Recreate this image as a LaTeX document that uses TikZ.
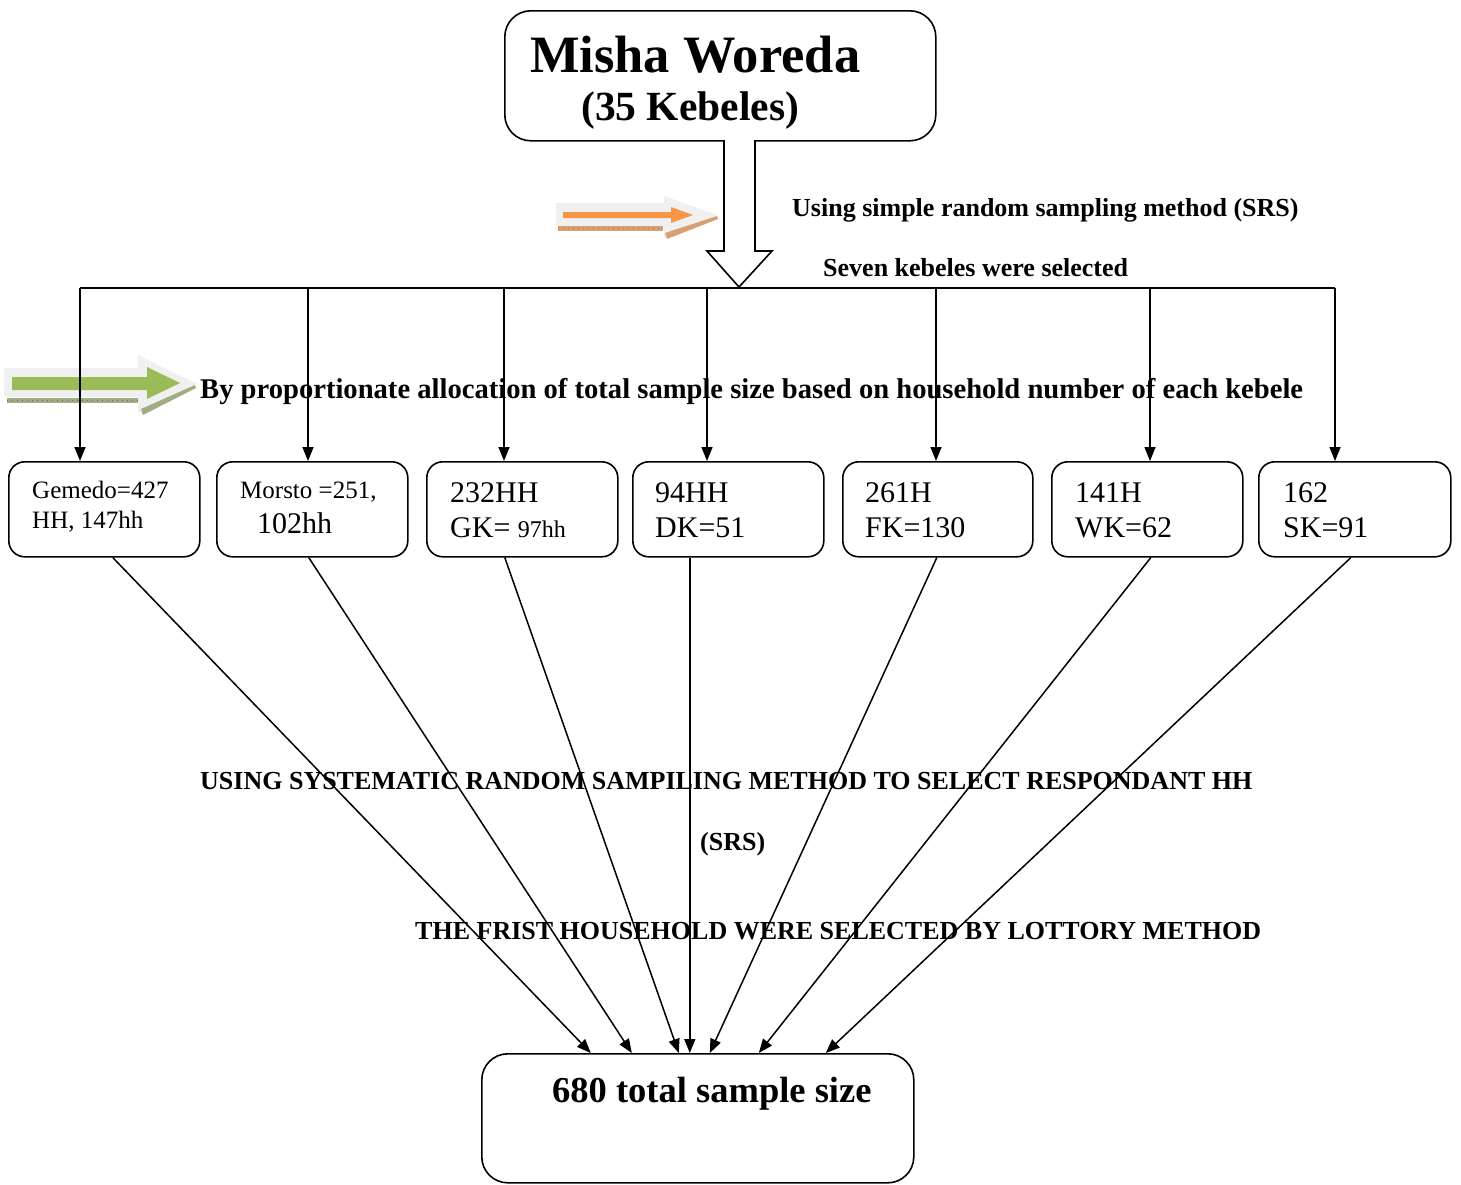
\documentclass[tikz,border=0pt]{standalone}
\usepackage{fontspec}
\setmainfont{Liberation Serif}
\usetikzlibrary{arrows.meta}
\begin{document}
\begin{tikzpicture}[x=1pt,y=-1pt,
  box/.style={draw, line width=1.6pt, rounded corners=16pt, anchor=north west, inner sep=0pt},
  arr/.style={line width=1.5pt, -{Triangle[length=14pt,width=11pt]}},
  lbl/.style={anchor=base west, inner sep=0pt, font=\bfseries\fontsize{26}{30}\selectfont},
  kt/.style={anchor=base west, inner sep=0pt, font=\fontsize{30}{34}\selectfont},
  ks/.style={anchor=base west, inner sep=0pt, font=\fontsize{25}{29}\selectfont},
  graybg/.style={fill=black!6},
]
\useasboundingbox (0,0) rectangle (1461,1184);

% top box
\node[box, rounded corners=26pt, minimum width=431pt, minimum height=130pt] (top) at (504,10) {};
\node[anchor=base west, inner sep=0pt, font=\bfseries\fontsize{52.5}{56}\selectfont] (t1) at (530,72) {Misha Woreda};
\node[anchor=base west, inner sep=0pt, font=\bfseries\fontsize{41.5}{46}\selectfont] (t2) at (581,120) {(35 Kebeles)};

% hollow down arrow
\draw[line width=1.6pt, fill=white] (724,140) -- (724,251) -- (707,251) -- (739,287) -- (772,251) -- (755,251) -- (755,140);

% orange decorative arrow
\fill[graybg] (556,203) -- (664,203) -- (664,196) -- (717,215) -- (664,238) -- (664,226) -- (556,226) -- cycle;
\fill[color={rgb,255:red,215;green,160;blue,115}] (558,226) rectangle (663,231);
\draw[color={rgb,255:red,170;green,110;blue,70}, line width=0.6pt, dash pattern=on 1pt off 4pt] (558,228.5) -- (663,228.5);
\fill[color={rgb,255:red,215;green,160;blue,115}] (665,233) -- (717,216) -- (718,219) -- (667,239) -- cycle;
\fill[color={rgb,255:red,247;green,150;blue,70}] (563,212) -- (671,212) -- (671,207) -- (693,215) -- (671,223) -- (671,218) -- (563,218) -- cycle;

% green decorative arrow
\fill[graybg] (4,368) -- (138,368) -- (138,355) -- (197,384) -- (138,413) -- (138,397) -- (4,397) -- cycle;
\fill[color={rgb,255:red,160;green,172;blue,130}] (7,398) rectangle (138,403);
\draw[color={rgb,255:red,100;green,115;blue,75}, line width=0.6pt, dash pattern=on 1pt off 4pt] (7,400.5) -- (138,400.5);
\fill[color={rgb,255:red,160;green,172;blue,130}] (141,409) -- (195,385) -- (196,388) -- (143,415) -- cycle;
\fill[color={rgb,255:red,155;green,187;blue,89}] (12,377) -- (147,377) -- (147,367) -- (180,383) -- (147,399) -- (147,390) -- (12,390) -- cycle;

% labels
\node[lbl] (l1) at (792,216) {Using simple random sampling method (SRS)};
\node[lbl] (l2) at (823,276) {Seven kebeles were selected};

% kebele boxes
\node[box, minimum width=191pt, minimum height=95pt] (g1) at (8,461) {};
\node[box, minimum width=191pt, minimum height=95pt] (g2) at (216,461) {};
\node[box, minimum width=191pt, minimum height=95pt] (g3) at (426,461) {};
\node[box, minimum width=191pt, minimum height=95pt] (g4) at (632,461) {};
\node[box, minimum width=190pt, minimum height=95pt] (g5) at (842,461) {};
\node[box, minimum width=191pt, minimum height=95pt] (g6) at (1051,461) {};
\node[box, minimum width=192pt, minimum height=95pt] (g7) at (1258,461) {};

% bus
\coordinate (b1) at (80,288);
\coordinate (b2) at (308,288);
\coordinate (b3) at (504,288);
\coordinate (b4) at (707,288);
\coordinate (b5) at (936,288);
\coordinate (b6) at (1150,288);
\coordinate (b7) at (1335,288);
\draw[line width=1.6pt] (b1) -- (b7);
\draw[arr] (b1) -- (b1 |- g1.north);
\draw[arr] (b2) -- (b2 |- g2.north);
\draw[arr] (b3) -- (b3 |- g3.north);
\draw[arr] (b4) -- (b4 |- g4.north);
\draw[arr] (b5) -- (b5 |- g5.north);
\draw[arr] (b6) -- (b6 |- g6.north);
\draw[arr] (b7) -- (b7 |- g7.north);

% proportional allocation label
\node[lbl, font=\bfseries\fontsize{28.6}{32}\selectfont] (l3) at (200,398) {By proportionate allocation of total sample size based on household number of each kebele};

% kebele texts
\node[ks] (k1a) at (32,498) {Gemedo=427};
\node[ks] (k1b) at (32,528) {HH, 147hh};
\node[ks] (k2a) at (240,498) {Morsto =251,};
\node[kt] (k2b) at (257,533) {102hh};
\node[kt] (k3a) at (450,502) {232HH};
\node[kt] (k3b) at (450,537) {GK= {\fontsize{24}{28}\selectfont 97hh}};
\node[kt] (k4a) at (655,502) {94HH};
\node[kt] (k4b) at (655,537) {DK=51};
\node[kt] (k5a) at (865,502) {261H};
\node[kt] (k5b) at (865,537) {FK=130};
\node[kt] (k6a) at (1075,502) {141H};
\node[kt] (k6b) at (1075,537) {WK=62};
\node[kt] (k7a) at (1283,502) {162};
\node[kt] (k7b) at (1283,537) {SK=91};

% total box
\node[box, rounded corners=26pt, minimum width=432pt, minimum height=129pt] (tot) at (481,1053) {};
\node[anchor=base west, inner sep=0pt, font=\bfseries\fontsize{36.5}{40}\selectfont] (tt) at (552,1102) {680 total sample size};

% converging arrows
\draw[arr] ([xshift=8.5pt]g1.south) -- ([xshift=-107pt]tot.north);
\draw[arr] ([xshift=-3.5pt]g2.south) -- ([xshift=-66pt]tot.north);
\draw[arr] ([xshift=-17.5pt]g3.south) -- ([xshift=-19pt]tot.north);
\draw[arr] ([xshift=-38.5pt]g4.south) -- ([xshift=-8pt]tot.north);
\draw[arr] ([xshift=-1pt]g5.south) -- ([xshift=12pt]tot.north);
\draw[arr] ([xshift=3.5pt]g6.south) -- ([xshift=61pt]tot.north);
\draw[arr] ([xshift=-4pt]g7.south) -- ([xshift=128pt]tot.north);

% lower labels
\node[lbl] (l4) at (200,789) {USING SYSTEMATIC RANDOM SAMPILING METHOD TO SELECT RESPONDANT HH};
\node[lbl] (l5) at (700,850) {(SRS)};
\node[lbl] (l6) at (415,939) {THE FRIST HOUSEHOLD WERE SELECTED BY LOTTORY METHOD};
\end{tikzpicture}
\end{document}
